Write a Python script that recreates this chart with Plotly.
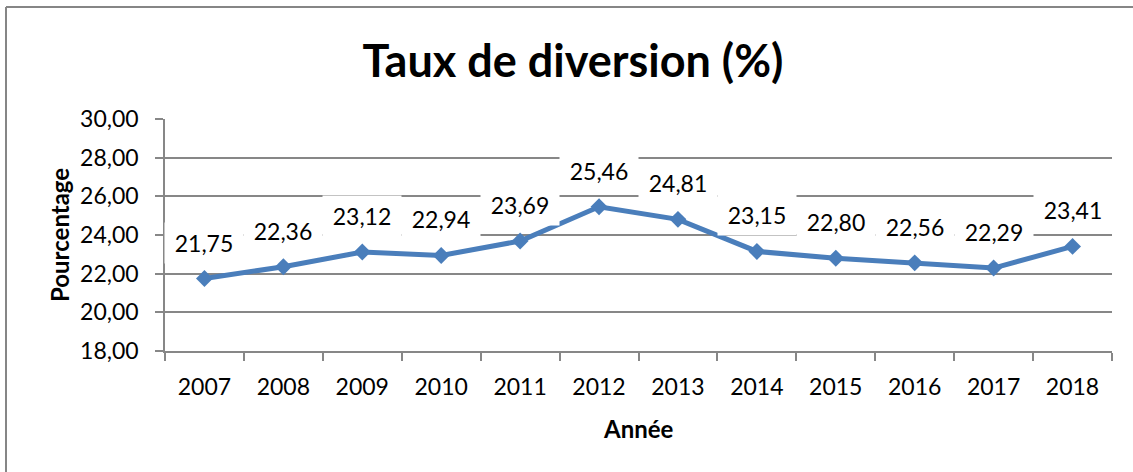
import plotly.graph_objects as go

years = ["2007", "2008", "2009", "2010", "2011", "2012", "2013", "2014", "2015", "2016", "2017", "2018"]
taux = [21.75, 22.36, 23.12, 22.94, 23.69, 25.46, 24.81, 23.15, 22.80, 22.56, 22.29, 23.41]

title_text = "Taux de diversion (%)"
x_title = "Année"
y_title = "Pourcentage"

FONT = "Lato, Carlito, Calibri, sans-serif"
BLUE = "#4a7ebb"
GRID = "#878787"

W, H = 1133, 472
ML, MR, MT, MB = 165, 21, 119, 121
PW, PH = W - ML - MR, H - MT - MB

def px_to_paper_x(px):
    return (px - ML) / PW

def px_to_paper_y(py):
    return (H - MB - py) / PH

fig = go.Figure()
fig.add_trace(go.Scatter(
    x=years, y=taux, mode="lines+markers",
    line=dict(color=BLUE, width=5),
    marker=dict(symbol="diamond", size=13, color=BLUE),
    hoverinfo="skip", showlegend=False,
))

annotations = []
for i, v in enumerate(taux):
    annotations.append(dict(
        x=i, y=v, xref="x", yref="y", yshift=36,
        text=f"{v:.2f}".replace(".", ","), showarrow=False,
        font=dict(family=FONT, size=23, color="black"),
        bgcolor="white", width=74, height=36, borderpad=2,
    ))

annotations.append(dict(
    x=px_to_paper_x(59), y=0.5, xref="paper", yref="paper",
    xanchor="center", yanchor="middle",
    text=f"<b>{y_title}</b>", textangle=-90, showarrow=False,
    font=dict(family=FONT, size=24, color="black"),
))
annotations.append(dict(
    x=px_to_paper_x(638), y=px_to_paper_y(428), xref="paper", yref="paper",
    xanchor="center", yanchor="middle",
    text=f"<b>{x_title}</b>", showarrow=False,
    font=dict(family=FONT, size=24, color="black"),
))

# outer chart border (only top and left edges visible)
shapes = [
    dict(type="line", xref="paper", yref="paper",
         x0=px_to_paper_x(6), x1=px_to_paper_x(1140), y0=px_to_paper_y(7), y1=px_to_paper_y(7),
         line=dict(color="#868686", width=2)),
    dict(type="line", xref="paper", yref="paper",
         x0=px_to_paper_x(6), x1=px_to_paper_x(6), y0=px_to_paper_y(7), y1=px_to_paper_y(480),
         line=dict(color="#868686", width=2)),
]

fig.update_layout(
    width=W, height=H,
    margin=dict(l=ML, r=MR, t=MT, b=MB),
    paper_bgcolor="white", plot_bgcolor="white",
    separators=", ",
    font=dict(family=FONT, size=23, color="black"),
    title=dict(text=f"<b>{title_text}</b>", x=573 / W, xref="container", xanchor="center",
               y=1 - 61 / H, yref="container", yanchor="middle",
               font=dict(family=FONT, size=45, color="black")),
    xaxis=dict(type="category", range=[-0.5, len(years) - 0.5], tickson="boundaries",
               ticks="outside", ticklen=8,
               tickcolor=GRID, tickwidth=1.5, showline=True, linecolor=GRID, linewidth=1.5,
               showgrid=False, ticklabelstandoff=15, tickfont=dict(size=23), tickangle=0),
    yaxis=dict(range=[18, 30], dtick=2, tick0=18, tickformat=".2f", ticks="outside", ticklen=8,
               tickcolor=GRID, tickwidth=1.5, showline=True, linecolor=GRID, linewidth=1.5,
               showgrid=True, gridcolor=GRID, gridwidth=1.5, zeroline=False,
               ticklabelstandoff=12, tickfont=dict(size=23)),
    annotations=annotations,
    shapes=shapes,
)

fig.write_html("out.html", config={"displayModeBar": False},
               post_script="document.body.style.margin='0';")
